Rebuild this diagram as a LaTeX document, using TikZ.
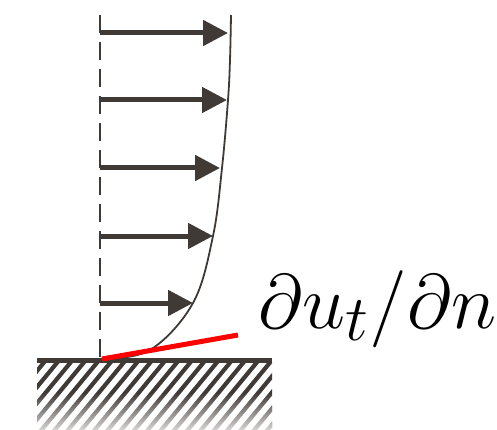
\documentclass[tikz,border=0pt]{standalone}
\usepackage{amsmath}
\usetikzlibrary{arrows.meta}
\definecolor{ink}{RGB}{64,58,55}

\begin{document}
\begin{tikzpicture}[x=1pt, y=-1pt, >={Triangle[length=25pt, width=25pt]}]
            \useasboundingbox (0,0) rectangle (497,430);
            % Wand (gestrichelt) und Geschwindigkeitsprofil
            \coordinate (top) at (100,15);
            \coordinate (foot) at (100,358);
            \draw[ink, line width=2.2pt, dash pattern=on 18pt off 9pt] (top) -- (foot);
            \draw[ink, line width=1.8pt] plot[smooth, tension=0.6] coordinates {(231,15) (230,60) (228,100) (222,168) (213,236) (193,303) (150,350) (101,359)};
            % Geschwindigkeitspfeile
            \foreach \y/\tip [count=\i] in {33/228, 100/227, 168/220, 236/213, 303/193} {
                \coordinate (s\i) at (100,\y);
                \coordinate (t\i) at (\tip,\y);
                \draw[ink, line width=5pt, ->] (s\i) -- (t\i);
            }
            % Boden mit Schraffur, nach unten ausgeblendet
            \begin{scope}
                \clip (37,362) rectangle (272,432);
                \foreach \x in {-20,-6.7,...,290} {
                    \draw[ink, line width=4.2pt] (\x,440) -- (\x+66,360);
                }
                \foreach \j in {0,...,19} {
                    \fill[white, opacity=\j*0.042] (30,392+\j*2) rectangle (280,394+\j*2);
                }
            \end{scope}
            \draw[ink, line width=4.5pt] (37,360.5) -- (272,360.5);
            % Wandschubspannung
            \coordinate (r0) at (102,359);
            \coordinate (r1) at (238,335);
            \draw[red, line width=5pt] (r0) -- (r1);
            \node[anchor=base west, inner sep=0pt, font=\Huge, scale=3.1] (grad) at (258,328) {$\partial u_t/\partial n$};
\end{tikzpicture}
\end{document}
